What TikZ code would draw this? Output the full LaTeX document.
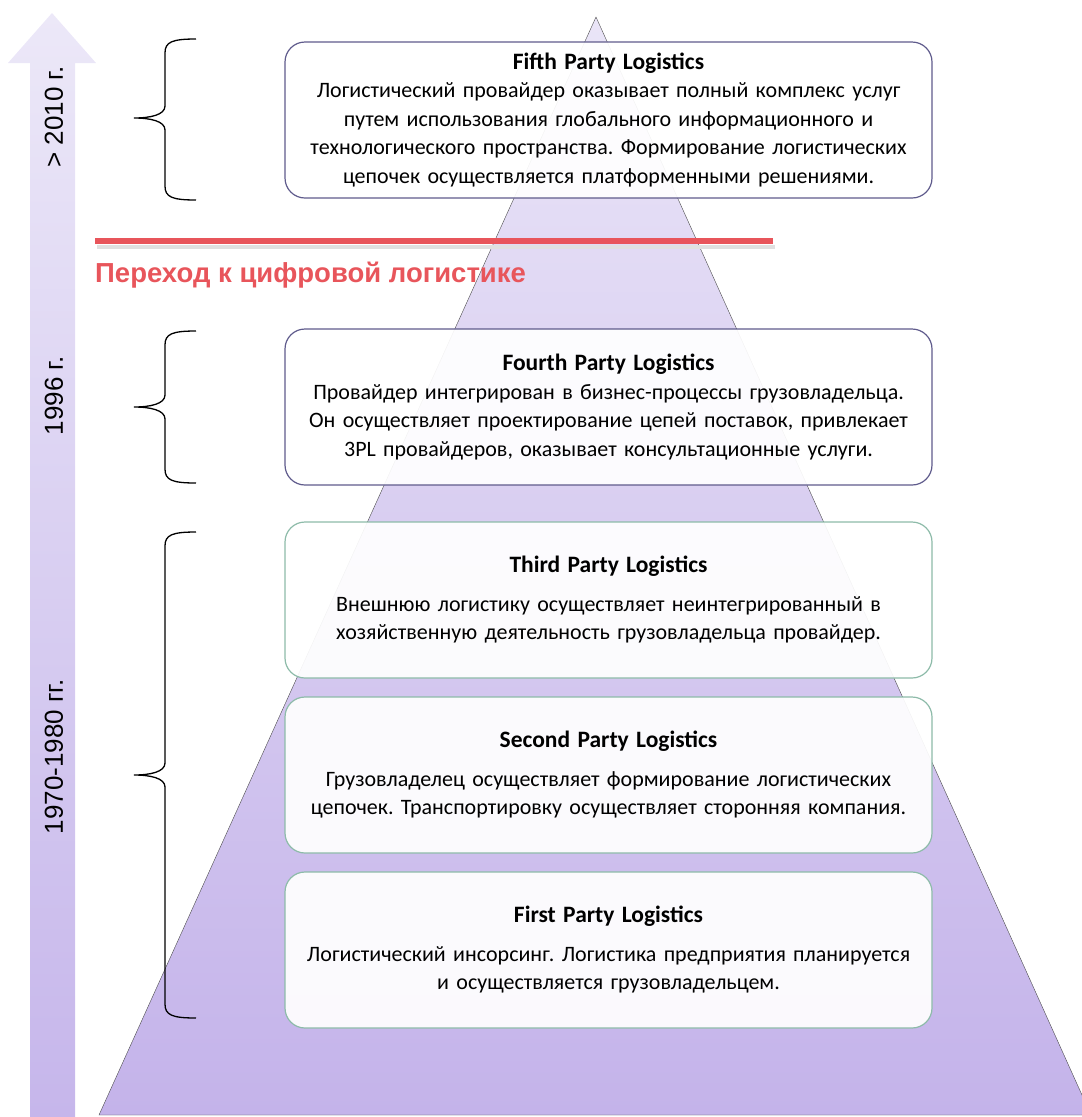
\documentclass[tikz,border=0pt]{standalone}
\usepackage{fontspec}
\setmainfont{Carlito}
\newfontfamily\arialfont{Liberation Sans}
\frenchspacing

\definecolor{pyrtop}{HTML}{EAE5F7}
\definecolor{pyrbot}{HTML}{C4B3EA}
\definecolor{arrowtop}{HTML}{ECE8F8}
\definecolor{arrowbot}{HTML}{C6B6EB}
\definecolor{digitred}{HTML}{E8555B}
\definecolor{boxpurple}{HTML}{5F5B8C}
\definecolor{boxgreen}{HTML}{8DBBA9}

% brace: top y, tip y, bottom y
\newcommand{\erabrace}[3]{%
  \draw[erabrace] (196,#1) .. controls (172,#1) and (165,#1+3) .. (165,#1+14)
    -- (165,#2-12) .. controls (165,#2-3) and (150,#2) .. (134,#2)
    .. controls (150,#2) and (165,#2+3) .. (165,#2+12)
    -- (165,#3-14) .. controls (165,#3-3) and (172,#3) .. (196,#3);}
\newcommand{\partytitle}[1]{{\fontsize{23.5}{28.5}\selectfont\bfseries #1}}

\begin{document}
\begin{tikzpicture}[x=1pt, y=-1pt,
    partybox/.style={draw, rounded corners=20pt, fill=white, fill opacity=0.93, text opacity=1,
      line width=1.2pt, minimum width=647pt, minimum height=156pt, text width=635pt,
      align=center, font=\fontsize{22}{28.5}\selectfont},
    eralabel/.style={rotate=90, font=\arialfont\fontsize{26}{26}\selectfont},
    erabrace/.style={line width=1.3pt, black}]
  \useasboundingbox (0,0) rectangle (1082,1117);

  % time axis
  \shade[top color=arrowtop, bottom color=arrowbot]
    (30,1117) -- (30,63) -- (8,63) -- (52,13) -- (96,63) -- (75,63) -- (75,1117) -- cycle;
  \node[eralabel] (era5) at (54,117) {> 2010 г.};
  \node[eralabel] (era4) at (54,396) {1996 г.};
  \node[eralabel] (era123) at (54,757) {1970-1980 гг.};

  % pyramid
  \shadedraw[top color=pyrtop, bottom color=pyrbot, draw=black!70, thin]
    (596,17) -- (1091,1115) -- (99,1115) -- cycle;

  % braces
  \erabrace{39}{118}{200}
  \erabrace{331}{407}{483}
  \erabrace{532}{775}{1018}

  % digital shift
  \draw[black!12, line width=4pt] (97,247) -- (775,247);
  \draw[digitred, line width=6pt] (95,241) -- (773,241);
  \node[anchor=base west, inner sep=0pt, text=digitred, font=\arialfont\bfseries\fontsize{27.5}{27.5}\selectfont]
    (shift) at (95,282) {Переход к цифровой логистике};

  % levels
  \node[partybox, draw=boxpurple] (fifthpl) at (608.5,120) {\partytitle{Fifth Party Logistics}\\
    Логистический провайдер оказывает полный комплекс услуг\\
    путем использования глобального информационного и\\
    технологического пространства. Формирование логистических\\
    цепочек осуществляется платформенными решениями.};
  \node[partybox, draw=boxpurple] (fourthpl) at (608.5,407) {\partytitle{Fourth Party Logistics}\\
    Провайдер интегрирован в бизнес-процессы грузовладельца.\\
    Он осуществляет проектирование цепей поставок, привлекает\\
    3PL провайдеров, оказывает консультационные услуги.};
  \node[partybox, draw=boxgreen] (thirdpl) at (608.5,600) {\partytitle{Third Party Logistics}\\[10pt]
    Внешнюю логистику осуществляет неинтегрированный в\\
    хозяйственную деятельность грузовладельца провайдер.};
  \node[partybox, draw=boxgreen] (secondpl) at (608.5,775) {\partytitle{Second Party Logistics}\\[10pt]
    Грузовладелец осуществляет формирование логистических\\
    цепочек. Транспортировку осуществляет сторонняя компания.};
  \node[partybox, draw=boxgreen] (firstpl) at (608.5,950) {\partytitle{First Party Logistics}\\[10pt]
    Логистический инсорсинг. Логистика предприятия планируется\\
    и осуществляется грузовладельцем.};
\end{tikzpicture}
\end{document}
